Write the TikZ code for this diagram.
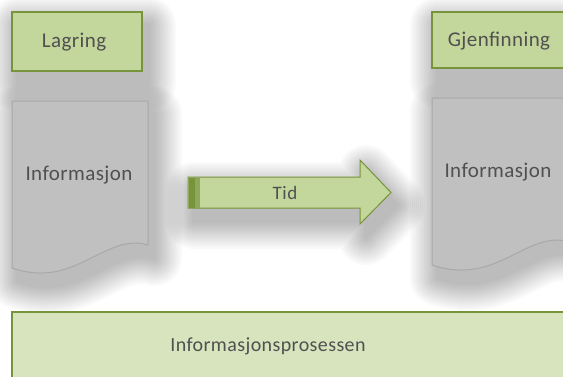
\documentclass[tikz,border=0pt]{standalone}
\usepackage{fontspec}
\setmainfont{Carlito}
\definecolor{boxfill}{HTML}{C3D69B}
\definecolor{basefill}{HTML}{D7E4BD}
\definecolor{boxline}{HTML}{77933C}
\definecolor{docfill}{HTML}{C0C0C0}
\definecolor{docline}{HTML}{A8A8A8}
\definecolor{txt}{HTML}{505050}
% soft drop shadow built from stacked, widening translucent outlines
\newcommand\castshadow[1]{%
  \foreach \w in {56,52,...,4}{%
    \begin{scope}[transparency group, opacity=0.02, shift={(6,13)}]
      \filldraw[black, line width=\w pt, line join=round] #1;
    \end{scope}}}
\tikzset{
  labelbox/.style={draw=boxline, line width=2pt, fill=boxfill},
  doc/.style={draw=docline, line width=1pt, fill=docfill},
  lbl/.style={text=txt, font=\fontsize{21}{24}\selectfont\addfontfeatures{LetterSpace=2}, inner sep=0pt},
}
\begin{document}
\begin{tikzpicture}[x=1pt,y=-1pt]
  \useasboundingbox (0,0) rectangle (563,376);
  \fill[white] (0,0) rectangle (563,376);

  % shadows first
  \castshadow{(12,12) rectangle (142,71)}
  \castshadow{(432,12) rectangle (566,68)}
  \castshadow{(12,101) -- (148,101) -- (148,245) .. controls (105,232) and (75,290) .. (12,268) -- cycle}
  \castshadow{(432,98) -- (570,98) -- (570,242) .. controls (527,229) and (497,287) .. (432,265) -- cycle}
  \castshadow{(188,177) -- (360,177) -- (360,160) -- (391,192.5) -- (360,224) -- (360,208) -- (188,208) -- cycle}

  % heading boxes
  \draw[labelbox] (12,12) rectangle (142,71);
  \node[lbl] (lagring) at (74,42) {Lagring};
  \draw[labelbox] (432,12) rectangle (566,68);
  \node[lbl] (gjen) at (499,41) {Gjenfinning};

  % document shapes
  \draw[doc] (12,101) -- (148,101) -- (148,245)
     .. controls (105,232) and (75,290) .. (12,268) -- cycle;
  \node[lbl] (info1) at (79,175) {Informasjon};
  \draw[doc] (432,98) -- (570,98) -- (570,242)
     .. controls (527,229) and (497,287) .. (432,265) -- cycle;
  \node[lbl] (info2) at (498,172) {Informasjon};

  % time arrow
  \draw[draw=boxline, line width=1pt, fill=boxfill]
     (188,177) -- (360,177) -- (360,160) -- (391,192.5) -- (360,224)
     -- (360,208) -- (188,208) -- cycle;
  \fill[boxline] (188.5,177.5) rectangle (195,207.5);
  \fill[boxline!70!boxfill] (195,177.5) rectangle (200,207.5);
  \node[lbl, font=\fontsize{19}{22}\selectfont\addfontfeatures{LetterSpace=3}] (tid) at (285,193) {Tid};

  % process base
  \draw[draw=boxline, line width=2.5pt, fill=basefill] (12,312) rectangle (570,382);
  \node[lbl, font=\fontsize{20}{24}\selectfont\addfontfeatures{LetterSpace=2}] (proc) at (268,346) {Informasjonsprosessen};
\end{tikzpicture}
\end{document}
